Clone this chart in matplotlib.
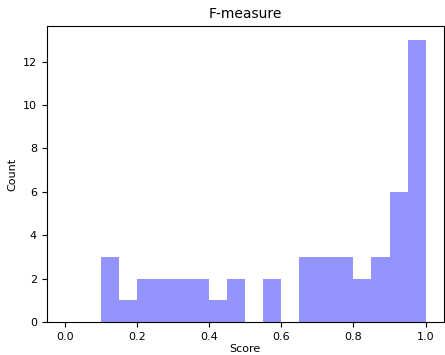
import numpy as np
import matplotlib.pyplot as plt

# histogram bins (width 0.05) and counts
bin_edges = np.linspace(0, 1, 21)
counts = [0, 0, 3, 1, 2, 2, 2, 2, 1, 2, 0, 2, 0, 3, 3, 3, 2, 3, 6, 13]

centers = (bin_edges[:-1] + bin_edges[1:]) / 2

fig, ax = plt.subplots(figsize=(4.45, 3.55), dpi=100)
ax.hist(centers, bins=bin_edges, weights=counts, color="blue", alpha=0.42)
ax.set_title("F-measure", fontsize=10)
ax.set_xlabel("Score", fontsize=8, labelpad=2)
ax.set_ylabel("Count", fontsize=8)
ax.tick_params(labelsize=8)
fig.subplots_adjust(left=0.105, right=0.997, top=0.927, bottom=0.093)
fig.savefig("out.png")
